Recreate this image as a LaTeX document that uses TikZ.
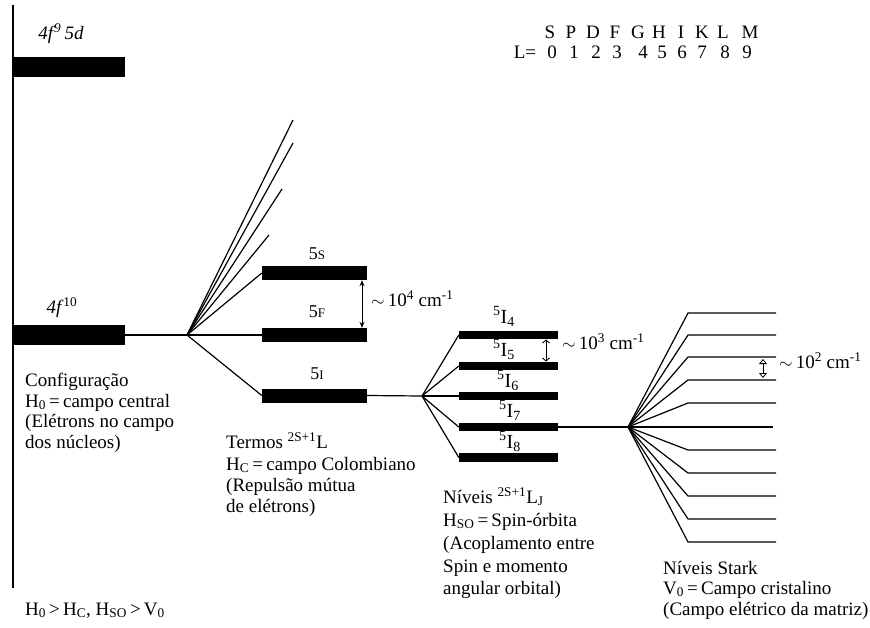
\documentclass[tikz,border=0pt]{standalone}
\usepackage{fontspec}
\setmainfont{Liberation Serif}
\usetikzlibrary{arrows.meta}
\begin{document}
\begin{tikzpicture}[x=1pt,y=-1pt,
  conn/.style={line width=1.2pt,line join=round},
  axisline/.style={line width=2pt},
  bigbar/.style={fill=black,inner sep=0pt,minimum width=112pt,minimum height=20pt},
  termbar/.style={fill=black,inner sep=0pt,minimum width=105pt,minimum height=14pt},
  jbar/.style={fill=black,inner sep=0pt,minimum width=99pt,minimum height=8.5pt},
  txt/.style={anchor=base west,inner sep=0pt,font=\fontsize{19}{21}\selectfont},
  cfglbl/.style={anchor=base,inner sep=0pt,font=\fontsize{19}{21}\selectfont\itshape},
  termlbl/.style={anchor=base,inner sep=0pt,font=\fontsize{18}{20}\selectfont},
  jlbl/.style={anchor=base,inner sep=0pt,font=\fontsize{20}{22}\selectfont},
  tbltxt/.style={anchor=base,inner sep=0pt,font=\fontsize{19}{21}\selectfont},
  gaparrow/.style={line width=1pt,{Stealth[length=6pt,width=5pt]}-{Stealth[length=6pt,width=5pt]}},
  smallarrow/.style={line width=0.9pt,{Straight Barb[length=3pt,width=7pt]}-{Straight Barb[length=3pt,width=7pt]}},
  tinyarrow/.style={line width=0.8pt,{Triangle[open,length=5pt,width=8pt]}-{Triangle[open,length=5pt,width=8pt]}}
]
\useasboundingbox (0,0) rectangle (870,627);

% vertical axis
\coordinate (axtop) at (13,5);
\coordinate (axbot) at (13,588);
\draw[axisline] (axtop) -- (axbot);

% configuration bars
\node[bigbar] (cfgA) at (69,67) {};
\node[cfglbl] (cfgAl) at (61,39) {4f\kern1pt\textsuperscript{9}\,5d};
\node[bigbar] (cfgB) at (69,335) {};
\node[cfglbl] (cfgBl) at (62,313) {4f\kern2pt\textsuperscript{\upshape 10}};

% fan 1
\coordinate (fanA) at (187,335);
\draw[conn] (cfgB.east) -- (fanA);
\node[termbar] (tS) at (314.5,273) {};
\node[termbar] (tF) at (314.5,335) {};
\node[termbar] (tI) at (314.5,395.5) {};
\node[termlbl] (tSl) at (317,259) {5{\fontsize{13}{13}\selectfont S}};
\node[termlbl] (tFl) at (317,317) {5{\fontsize{13}{13}\selectfont F}};
\node[termlbl] (tIl) at (317,379) {5{\fontsize{13}{13}\selectfont I}};
\coordinate (up1) at (293,120);
\coordinate (up2) at (293,143);
\coordinate (up3) at (282,189);
\coordinate (up4) at (269,235);
\foreach \e in {up1,up2,up3,up4} \draw[conn] (fanA) -- (\e);
\draw[conn] (fanA) -- (tS.west);
\draw[conn] (fanA) -- (tF.west);
\draw[conn] (fanA) -- (tI.west);

% 10^4 arrow
\coordinate (arA) at (362,0);
\draw[gaparrow] (tS.south -| arA) -- (tF.north -| arA);
\node[txt] (arAl) at (371,306) {$\sim$\,10\textsuperscript{4} cm\textsuperscript{-1}};

% fan 2
\coordinate (fanB) at (422,396);
\draw[conn] (tI.east) -- (fanB);
\node[jbar] (j4) at (508.5,335) {};
\node[jbar] (j5) at (508.5,366) {};
\node[jbar] (j6) at (508.5,396) {};
\node[jbar] (j7) at (508.5,427) {};
\node[jbar] (j8) at (508.5,457.5) {};
\foreach \b in {j4,j5,j6,j7,j8} \draw[conn] (fanB) -- (\b.west);
\node[jlbl] (j4l) at (504,323) {\textsuperscript{5}I\textsubscript{4}};
\node[jlbl] (j5l) at (504,356) {\textsuperscript{5}I\textsubscript{5}};
\node[jlbl] (j6l) at (508,387) {\textsuperscript{5}I\textsubscript{6}};
\node[jlbl] (j7l) at (510,417) {\textsuperscript{5}I\textsubscript{7}};
\node[jlbl] (j8l) at (510,448) {\textsuperscript{5}I\textsubscript{8}};

% 10^3 arrow
\coordinate (arB) at (546,0);
\draw[smallarrow] (j4.south -| arB) -- (j5.north -| arB);
\node[txt] (arBl) at (562,349) {$\sim$\,10\textsuperscript{3} cm\textsuperscript{-1}};

% fan 3 (Stark)
\coordinate (fanC) at (628,427);
\draw[conn] (j7.east) -- (fanC);
\foreach \y [count=\i] in {313,335,357,380,403,450,473,496,519,542} {
  \coordinate (sb\i) at (688,\y);
  \coordinate (se\i) at (776,\y);
  \draw[conn] (fanC) -- (sb\i) -- (se\i);
}
\coordinate (smid) at (773,427);
\draw[conn] (fanC) -- (smid);

% 10^2 arrow
\coordinate (arCt) at (763,359);
\coordinate (arCb) at (763,378);
\draw[tinyarrow] (arCt) -- (arCb);
\node[txt] (arCl) at (779,368) {$\sim$\,10\textsuperscript{2} cm\textsuperscript{-1}};

% text blocks
\node[txt] (c1) at (25,386) {Configuração};
\node[txt] (c2) at (25,407) {H\textsubscript{0}\,=\,campo central};
\node[txt] (c3) at (25,427) {(Elétrons no campo};
\node[txt] (c4) at (25,448) {dos núcleos)};

\node[txt] (h1) at (226,448) {Termos \textsuperscript{2S+1}L};
\node[txt] (h2) at (226,470) {H\textsubscript{C}\,=\,campo Colombiano};
\node[txt] (h3) at (226,491) {(Repulsão mútua};
\node[txt] (h4) at (226,512) {de elétrons)};

\node[txt] (n1) at (443,503) {Níveis \textsuperscript{2S+1}L\textsubscript{J}};
\node[txt] (n2) at (443,526) {H\textsubscript{SO}\,=\,Spin-órbita};
\node[txt] (n3) at (443,549) {(Acoplamento entre};
\node[txt] (n4) at (443,572) {Spin e momento};
\node[txt] (n5) at (443,594) {angular orbital)};

\node[txt] (s1) at (663,574) {Níveis Stark};
\node[txt] (s2) at (663,594) {V\textsubscript{0}\,=\,Campo cristalino};
\node[txt] (s3) at (663,615) {(Campo elétrico da matriz)};

\node[txt] (ineq) at (25,615) {H\textsubscript{0}\,>\,H\textsubscript{C}, H\textsubscript{SO}\,>\,V\textsubscript{0}};

% L table
\foreach \ch/\xx [count=\i] in {S/550,P/571,D/593,F/615,G/638,H/659,I/681,K/702,L/723,M/750}
  \node[tbltxt] (lt\i) at (\xx,38) {\ch};
\node[tbltxt] (lteq) at (525,58) {L=};
\foreach \ch/\xx [count=\i] in {0/552,1/574,2/596,3/617,4/643,5/662,6/682,7/702,8/725,9/747}
  \node[tbltxt] (ln\i) at (\xx,58) {\ch};
\end{tikzpicture}
\end{document}
